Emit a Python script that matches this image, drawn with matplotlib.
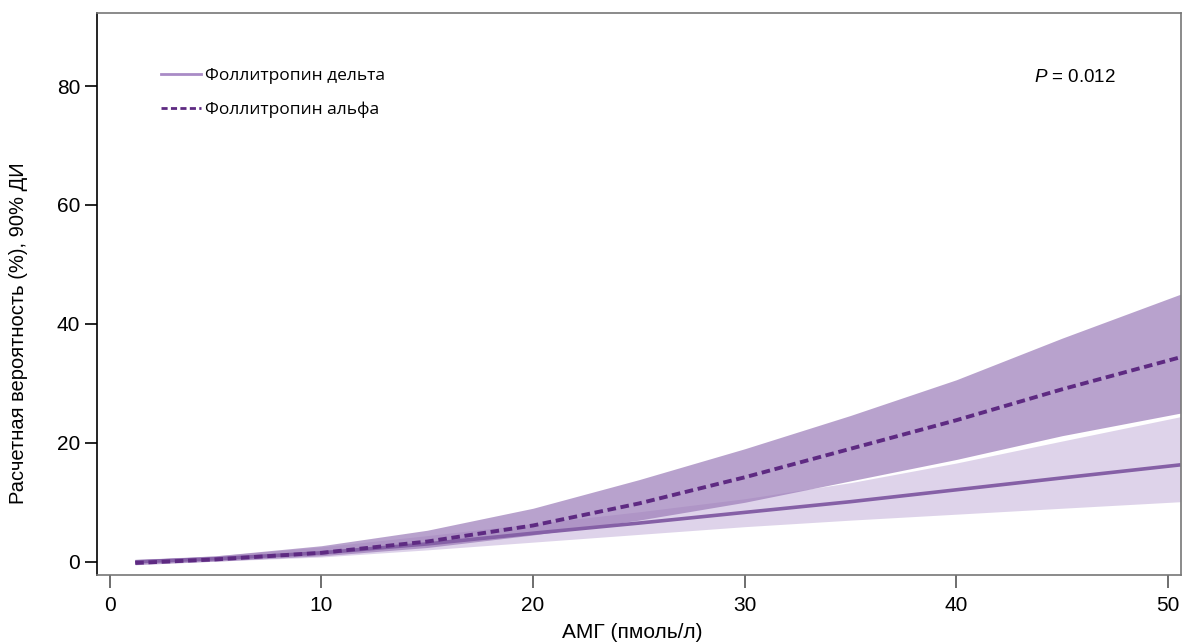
import numpy as np
import matplotlib
matplotlib.use("Agg")
import matplotlib.pyplot as plt
from matplotlib.lines import Line2D

plt.rcParams['font.family'] = ['Liberation Sans', 'DejaVu Sans']
plt.rcParams['mathtext.fontset'] = 'custom'
plt.rcParams['mathtext.it'] = 'Liberation Sans:italic'
plt.rcParams['mathtext.rm'] = 'Liberation Sans'

# AMH (pmol/L) grid points
amh = [1.2, 5, 10, 15, 20, 25, 30, 35, 40, 45, 50.6]

# follitropin delta: estimate and 90% CI
delta = [0.0, 0.5, 1.5, 3.0, 4.8, 6.5, 8.3, 10.1, 12.1, 14.1, 16.3]
delta_hi = [0.4, 1.0, 2.5, 4.4, 6.4, 8.4, 10.6, 13.3, 16.6, 20.3, 24.4]
delta_lo = [-0.3, 0.1, 0.8, 2.0, 3.3, 4.6, 5.9, 7.0, 8.0, 9.0, 10.1]

# follitropin alfa: estimate and 90% CI
alfa = [-0.2, 0.4, 1.5, 3.4, 6.1, 9.8, 14.2, 19.0, 23.8, 29.0, 34.4]
alfa_hi = [0.3, 1.0, 2.7, 5.3, 9.0, 13.8, 19.0, 24.6, 30.6, 37.6, 45.0]
alfa_lo = [-0.5, 0.1, 1.0, 2.4, 4.5, 7.0, 10.0, 13.6, 17.2, 21.2, 25.0]

labels = ['Фоллитропин дельта', 'Фоллитропин альфа']

fig = plt.figure(figsize=(11.82, 6.43), dpi=100)
ax = fig.add_axes([0.082, 0.106, 0.917, 0.874])

ax.fill_between(amh, delta_lo, delta_hi, color='#c8b7dc', alpha=0.6, lw=0)
ax.fill_between(amh, alfa_lo, alfa_hi, color='#9b7bb8', alpha=0.7, lw=0)
ax.plot(amh, delta, color='#8560a6', lw=2.6, solid_capstyle='butt')
ax.plot(amh, alfa, color='#5e2a82', lw=2.8, ls=(0, (2.2, 1.2)))

ax.set_xlim(-0.61, 50.61)
ax.set_ylim(-2.2, 92.3)
ax.set_xticks([0, 10, 20, 30, 40, 50])
ax.set_yticks([0, 20, 40, 60, 80])
ax.tick_params(labelsize=15, length=9, width=1.2, color='#555555')
ax.tick_params(axis='x', pad=6)
ax.tick_params(axis='y', pad=3, color='black')
for s in ['top', 'right', 'bottom']:
    ax.spines[s].set_color('#777777')
    ax.spines[s].set_linewidth(1.2)
ax.spines['left'].set_color('black')
ax.spines['left'].set_linewidth(1.2)

ax.set_ylabel('Расчетная вероятность (%), 90% ДИ', fontsize=14.5)
ax.yaxis.set_label_coords(-0.064, 0.43)
ax.set_xlabel('АМГ (пмоль/л)', fontsize=15)
ax.xaxis.set_label_coords(0.494, -0.086)

handles = [Line2D([], [], color='#a98bc6', lw=2),
           Line2D([], [], color='#5e2a82', lw=2, ls=(0, (2.2, 1.2)))]
ax.legend(handles, labels, loc='upper left', bbox_to_anchor=(0.045, 0.93),
          frameon=False, handlelength=2.3, handletextpad=0.2, labelspacing=1.0,
          prop={'family': ['Open Sans', 'DejaVu Sans'], 'size': 12.5})

ax.text(0.865, 0.885, '$P$ = 0.012', transform=ax.transAxes, fontsize=13.5,
        ha='left', va='center')

fig.savefig('out.png', dpi=100)
